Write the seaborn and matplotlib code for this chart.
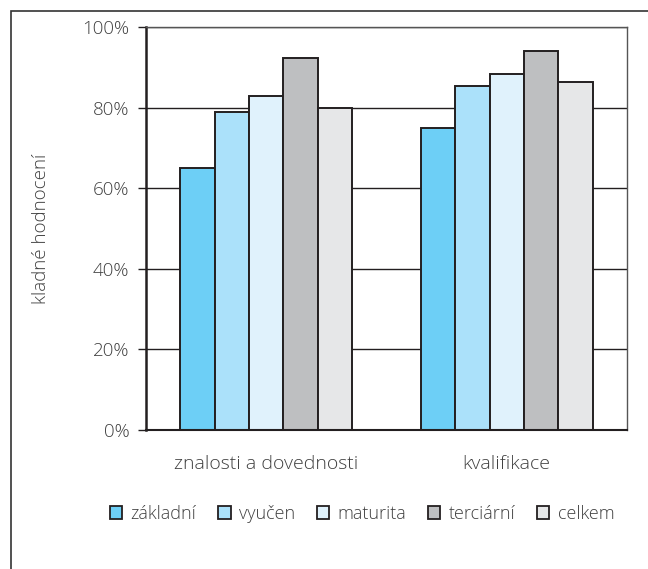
import pandas as pd
import matplotlib.pyplot as plt
import seaborn as sns
from matplotlib.patches import Rectangle
from matplotlib.ticker import FixedLocator, PercentFormatter

# Data
categories = ["znalosti a dovednosti", "kvalifikace"]
levels = ["základní", "vyučen", "maturita", "terciární", "celkem"]
zakladni = [65, 75]
vyucen = [79, 85.3]
maturita = [82.8, 88.3]
terciarni = [92.2, 94.1]
celkem = [80, 86.3]
colors = ["#6DCFF6", "#ABE1FA", "#E0F2FC", "#BEBFC1", "#E6E7E8"]

# Long table for seaborn
rows = []
for level, vals in zip(levels, [zakladni, vyucen, maturita, terciarni, celkem]):
    for cat, v in zip(categories, vals):
        rows.append({"kategorie": cat, "stupeň": level, "hodnota": v})
df = pd.DataFrame(rows)

sns.set_style("white")
plt.rcParams["font.family"] = ["Open Sans", "DejaVu Sans"]
plt.rcParams["font.weight"] = "light"
plt.rcParams["axes.labelweight"] = "light"
text_color = "#404040"
edge = "#231F20"

fig = plt.figure(figsize=(6.48, 5.69), dpi=100)
ax = fig.add_axes([146 / 648, 1 - 430 / 569, (627 - 146) / 648, (430 - 27) / 569])

sns.barplot(data=df, x="kategorie", y="hodnota", hue="stupeň", order=categories,
            hue_order=levels, palette=colors, width=0.715, gap=0,
            edgecolor=edge, linewidth=1.4, saturation=1, ax=ax)

ax.set_ylim(0, 100)
ax.set_xlim(-0.5, 1.5)
ax.yaxis.set_major_locator(FixedLocator([0, 20, 40, 60, 80, 100]))
ax.yaxis.set_major_formatter(PercentFormatter(decimals=0))
ax.set_axisbelow(True)
ax.grid(axis="y", color=edge, linewidth=1.0)
ax.grid(axis="x", visible=False)

# category ticks between groups, labels at centres
ax.xaxis.set_minor_locator(FixedLocator([-0.5, 0.5, 1.5]))
ax.tick_params(axis="x", which="major", length=0, pad=18, labelsize=14, labelcolor=text_color)
ax.tick_params(axis="x", which="minor", length=6, width=1, color=edge, direction="out")
ax.tick_params(axis="y", length=6, width=1, color=edge, direction="out", pad=6,
               labelsize=13.5, labelcolor=text_color, left=True)

for side in ["top", "right"]:
    ax.spines[side].set_color("#555555")
    ax.spines[side].set_linewidth(1.0)
ax.spines["left"].set_color(edge)
ax.spines["left"].set_linewidth(1.8)
ax.spines["bottom"].set_color(edge)
ax.spines["bottom"].set_linewidth(1.5)

ax.set_xlabel("")
ax.set_ylabel("kladné hodnocení", fontsize=13.5, fontweight="light", color=text_color, labelpad=23)

ax.legend_.remove()
handles = [Rectangle((0, 0), 1, 1, facecolor=c, edgecolor=edge, linewidth=1.3) for c in colors]
fig.legend(handles, levels, loc="center", bbox_to_anchor=(362 / 648, 1 - 514 / 569),
           ncol=5, frameon=False, handlelength=0.7, handleheight=0.7,
           handletextpad=0.45, columnspacing=1.2, labelcolor=text_color,
           prop={"size": 13, "weight": "light"})

# outer frame (top and left visible)
fig.patches.append(Rectangle((11 / 648, -0.05), 1.1, 1 - 10.5 / 569 + 0.05,
                             transform=fig.transFigure, fill=False,
                             edgecolor="#333333", linewidth=1.2))

fig.savefig("out.png", dpi=100)
